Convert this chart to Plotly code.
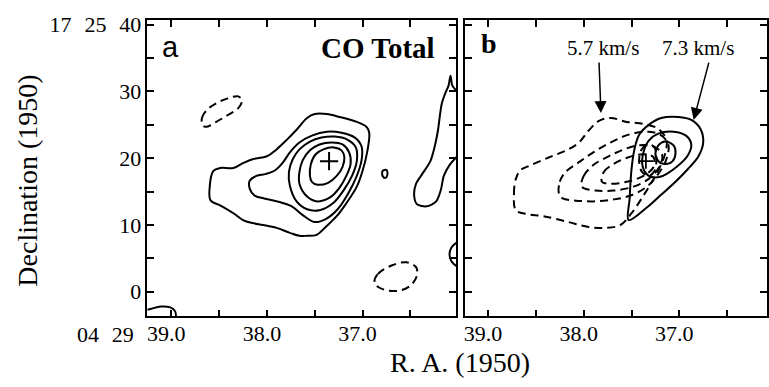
import plotly.graph_objects as go

# ---------------- Panel a : CO total (RA seconds of 04h29m, Dec arcsec of 17d25m) -------------
a1_ra = [38.59, 38.60, 38.56, 38.49, 38.35, 38.25, 38.15, 38.00, 37.90, 37.79, 37.69, 37.58, 37.50,
         37.375, 37.24, 37.06, 36.96, 36.93, 36.95, 37.00, 37.06, 37.17, 37.27, 37.375, 37.48, 37.58,
         37.66, 37.76, 37.90, 38.04, 38.15, 38.25, 38.35, 38.49]
a1_dec = [13.68, 15.44, 18.09, 18.53, 18.53, 19.26, 19.85, 20.29, 21.32, 22.79, 24.26, 26.03, 26.62,
          26.62, 26.18, 25.44, 24.71, 23.82, 21.03, 18.09, 15.74, 13.24, 11.32, 9.85, 8.53, 8.38,
          8.38, 8.82, 9.56, 10.00, 10.29, 10.74, 11.76, 12.94]

a2_ra = [38.18, 38.18, 38.11, 38.01, 37.91, 37.83, 37.76, 37.66, 37.53, 37.375, 37.22, 37.08, 37.01,
         37.01, 37.06, 37.15, 37.26, 37.385, 37.50, 37.625, 37.74, 37.89, 38.03, 38.13]
a2_dec = [15.44, 16.62, 17.35, 17.65, 18.24, 19.41, 20.88, 22.35, 23.38, 23.97, 23.82, 23.09, 21.76,
          19.71, 17.35, 14.71, 12.35, 10.88, 10.44, 11.47, 12.79, 13.53, 13.97, 14.41]

a3_ra = [37.76, 37.77, 37.73, 37.66, 37.55, 37.43, 37.29, 37.16, 37.07, 37.06, 37.11, 37.20, 37.31,
         37.45, 37.58, 37.69]
a3_dec = [15.88, 17.94, 19.85, 21.32, 22.50, 23.09, 23.24, 22.79, 21.62, 19.56, 17.35, 15.15, 13.24,
          12.21, 12.35, 13.53]

a4_ra = [37.66, 37.66, 37.625, 37.55, 37.45, 37.32, 37.21, 37.14, 37.125, 37.17, 37.24, 37.34, 37.47, 37.58]
a4_dec = [16.18, 17.94, 19.71, 21.18, 22.06, 22.35, 22.06, 20.88, 19.12, 17.35, 15.59, 14.12, 13.53, 14.26]

a5_ra = [37.55, 37.54, 37.49, 37.41, 37.30, 37.22, 37.19, 37.21, 37.27, 37.36, 37.47, 37.53]
a5_dec = [17.35, 19.12, 20.59, 21.32, 21.62, 21.18, 20.15, 18.68, 17.35, 16.32, 16.03, 16.47]

a_small_ra = [36.79, 36.75, 36.74, 36.76, 36.79]
a_small_dec = [18.09, 18.24, 17.50, 17.06, 17.35]

a_edge_ra = [35.99, 36.06, 36.08, 36.10, 36.135, 36.17, 36.19, 36.21, 36.24, 36.29, 36.375, 36.44,
             36.46, 36.43, 36.33, 36.23, 36.18, 36.15, 36.09, 35.99]
a_edge_dec = [29.71, 30.88, 32.35, 30.88, 29.71, 28.24, 26.47, 24.26, 22.06, 19.56, 17.65, 16.18,
              14.41, 13.09, 12.79, 13.53, 15.29, 17.35, 18.97, 20.59]

a_arc_ra = [35.99, 36.07, 36.09, 36.07, 35.99]
a_arc_dec = [7.65, 6.62, 5.59, 4.56, 3.53]

a_corner_ra = [39.30, 39.24, 39.11, 39.01, 38.96, 38.95]
a_corner_dec = [-2.70, -2.65, -2.21, -2.35, -2.94, -4.10]

a_neg1_ra = [38.67, 38.68, 38.63, 38.53, 38.41, 38.30, 38.26, 38.30, 38.41, 38.53, 38.63]
a_neg1_dec = [24.85, 26.03, 27.21, 28.24, 28.97, 29.26, 28.68, 27.50, 26.47, 25.44, 24.71]

a_neg2_ra = [36.875, 36.84, 36.69, 36.54, 36.44, 36.43, 36.48, 36.58, 36.72, 36.84]
a_neg2_dec = [1.47, 2.65, 3.97, 4.41, 3.68, 2.50, 1.18, 0.29, 0.15, 0.74]

peak_ra = [37.35]
peak_dec = [19.56]

# ---------------- Panel b : 5.7 km/s (dashed) and 7.3 km/s (solid) ---------------------------
d1_ra = [38.71, 38.73, 38.71, 38.66, 38.55, 38.36, 38.18, 38.05, 37.95, 37.84, 37.72, 37.55, 37.375,
         37.22, 37.135, 37.15, 37.24, 37.375, 37.50, 37.615, 37.77, 37.95, 38.16, 38.42, 38.59]
d1_dec = [12.21, 14.71, 16.91, 18.24, 18.97, 20.15, 21.18, 22.35, 24.12, 25.59, 26.03, 25.44, 25.15,
          24.41, 22.79, 20.59, 17.65, 14.41, 11.76, 10.00, 9.56, 9.71, 10.44, 11.32, 11.62]

d2_ra = [38.26, 38.25, 38.19, 38.05, 37.90, 37.72, 37.53, 37.34, 37.20, 37.115, 37.135, 37.22, 37.34,
         37.51, 37.69, 37.90, 38.10, 38.22]
d2_dec = [14.71, 16.47, 17.94, 19.41, 20.88, 22.35, 23.53, 23.97, 23.53, 22.06, 19.85, 17.65, 15.74,
          14.41, 13.82, 13.53, 13.68, 13.97]

d3_ra = [38.02, 38.00, 37.90, 37.74, 37.58, 37.43, 37.27, 37.18, 37.21, 37.32, 37.48, 37.69, 37.875]
d3_dec = [15.74, 17.35, 18.97, 20.29, 21.32, 21.91, 21.76, 20.59, 18.68, 16.91, 15.74, 15.15, 15.15]

d4_ra = [37.81, 37.79, 37.69, 37.53, 37.375, 37.27, 37.27, 37.375, 37.55, 37.72]
d4_dec = [16.47, 17.94, 19.12, 20.15, 20.59, 20.15, 18.68, 17.35, 16.47, 16.18]

d5_ra = [37.42, 37.40, 37.33, 37.26, 37.24, 37.26, 37.32, 37.39]
d5_dec = [19.41, 21.18, 22.06, 21.62, 19.85, 18.09, 17.35, 17.94]

s1_ra = [37.53, 37.52, 37.50, 37.47, 37.42, 37.32, 37.19, 37.01, 36.875, 36.78, 36.75, 36.80, 36.91,
         37.04, 37.20, 37.35]
s1_dec = [10.74, 13.97, 18.38, 21.32, 23.53, 25.00, 26.03, 26.18, 25.74, 24.41, 22.35, 20.29, 18.38,
          16.47, 14.41, 12.50]

s2_ra = [37.385, 37.375, 37.32, 37.22, 37.06, 36.93, 36.875, 36.91, 37.03, 37.20, 37.32]
s2_dec = [18.82, 20.88, 22.65, 23.68, 23.97, 23.38, 22.06, 20.44, 18.68, 17.21, 17.35]

s3_ra = [37.25, 37.22, 37.15, 37.06, 37.04, 37.07, 37.15, 37.22]
s3_dec = [20.74, 21.91, 22.50, 21.91, 20.74, 19.56, 19.12, 19.56]

x_tickvals = [39.0, 38.5, 38.0, 37.5, 37.0, 36.5]
x_ticktext = ["39.0", "", "38.0", "", "37.0", ""]
y_tickvals = [0, 5, 10, 15, 20, 25, 30, 35, 40]
y_ticktext = ["0", "", "10", "", "20", "", "30", "", "17\u2002\u200a25\u2002\u200a40"]

W, H = 769, 387
SERIF = "Liberation Serif"

fig = go.Figure()


def contour(ra, dec, xa, ya, dash="solid", closed=True, smooth=1.0):
    xs, ys = list(ra), list(dec)
    if closed:
        xs = xs + xs[:1]
        ys = ys + ys[:1]
    fig.add_trace(go.Scatter(
        x=xs, y=ys, xaxis=xa, yaxis=ya, mode="lines",
        line=dict(color="black", width=2, dash=dash, shape="spline", smoothing=smooth),
        hoverinfo="skip", showlegend=False))


DASH = "8px,5px"
# panel a
for ra, dec in [(a1_ra, a1_dec), (a2_ra, a2_dec), (a3_ra, a3_dec), (a4_ra, a4_dec),
                (a5_ra, a5_dec), (a_small_ra, a_small_dec)]:
    contour(ra, dec, "x", "y")
contour(a_edge_ra, a_edge_dec, "x", "y", closed=False, smooth=0.8)
contour(a_arc_ra, a_arc_dec, "x", "y", closed=False)
contour(a_corner_ra, a_corner_dec, "x", "y", closed=False)
contour(a_neg1_ra, a_neg1_dec, "x", "y", dash=DASH)
contour(a_neg2_ra, a_neg2_dec, "x", "y", dash=DASH)
fig.add_trace(go.Scatter(x=peak_ra, y=peak_dec, xaxis="x", yaxis="y", mode="markers",
                         marker=dict(symbol="cross-thin", size=13, line=dict(width=2, color="black")),
                         hoverinfo="skip", showlegend=False))

# panel b
for ra, dec in [(d1_ra, d1_dec), (d2_ra, d2_dec), (d3_ra, d3_dec), (d4_ra, d4_dec), (d5_ra, d5_dec)]:
    contour(ra, dec, "x2", "y2", dash=DASH)
for ra, dec in [(s1_ra, s1_dec), (s2_ra, s2_dec), (s3_ra, s3_dec)]:
    contour(ra, dec, "x2", "y2")
fig.add_trace(go.Scatter(x=peak_ra, y=peak_dec, xaxis="x2", yaxis="y2", mode="markers",
                         marker=dict(symbol="cross-thin", size=11, line=dict(width=1.8, color="black")),
                         hoverinfo="skip", showlegend=False))

ydom = [1 - 315 / H, 1 - 13 / H]
common_x = dict(tickvals=x_tickvals, ticktext=x_ticktext, ticks="inside", ticklen=7, tickwidth=1.5,
                tickcolor="black", mirror="allticks", showline=True, linewidth=1.5, linecolor="black",
                showgrid=False, zeroline=False, ticklabelstandoff=-3, ticklabelshift=5,
                tickfont=dict(family=SERIF, size=22, color="black"))
common_y = dict(tickvals=y_tickvals, ticktext=y_ticktext, ticks="inside", ticklen=7, tickwidth=1.5,
                tickcolor="black", mirror="allticks", showline=True, linewidth=1.5, linecolor="black",
                showgrid=False, zeroline=False, tickfont=dict(family=SERIF, size=22, color="black"),
                domain=ydom, range=[-3.68, 40.74])

fig.update_layout(
    width=W, height=H, margin=dict(l=0, r=0, t=0, b=0),
    paper_bgcolor="white", plot_bgcolor="white", showlegend=False,
    xaxis=dict(domain=[147 / W, 457 / W], range=[39.25, 36.02], anchor="y", **common_x),
    yaxis=dict(anchor="x", **common_y),
    xaxis2=dict(domain=[466 / W, 1.0], range=[39.24, 36.083], anchor="y2", **common_x),
    yaxis2=dict(anchor="x2", showticklabels=False, **common_y),
)


def label(text, xp, yp, size, family=SERIF, xanchor="center", angle=0):
    return dict(text=text, xref="paper", yref="paper", x=xp / W, y=1 - yp / H, showarrow=False,
                xanchor=xanchor, yanchor="middle", textangle=angle,
                font=dict(family=family, size=size, color="black"))


ann = [
    label("a", 170, 41, 29, family="Liberation Sans"),
    label("<b>CO Total</b>", 438, 42, 29, xanchor="right"),
    label("<b>b</b>", 490, 37, 28),
    label("5.7 km/s", 604, 42, 21),
    label("7.3 km/s", 700, 42, 21),
    label("04\u2002\u200a29", 105, 334, 22),
    label("R. A. (1950)", 461, 362, 28),
    label("Declination (1950)", 27, 177, 28, angle=-90),
]
for tip_ra, tip_dec, tail_ra, tail_dec in [(37.82, 26.76, 37.84, 34.4), (36.85, 25.74, 36.69, 34.4)]:
    ann.append(dict(text="", x=tip_ra, y=tip_dec, xref="x2", yref="y2", ax=tail_ra, ay=tail_dec,
                    axref="x2", ayref="y2", showarrow=True, arrowhead=2, arrowsize=1.6, arrowwidth=1.5,
                    arrowcolor="black", font=dict(size=1), borderpad=0))
fig.update_layout(annotations=ann)

fig.write_html("out.html", config={"displayModeBar": False},
               post_script="document.body.style.margin='0';document.body.style.overflow='hidden';")
